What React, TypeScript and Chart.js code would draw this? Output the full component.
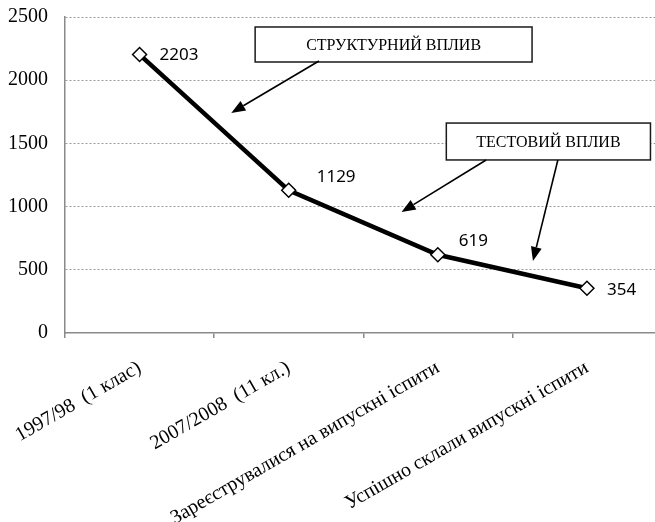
import React, { useEffect, useRef } from 'react';
import { Chart, registerables } from 'chart.js';

Chart.register(...registerables);

// ---- data ----
const categories = [
  '1997/98  (1 клас)',
  '2007/2008  (11 кл.)',
  'Зареєструвалися на випускні іспити',
  'Успішно склали випускні іспити',
];
const values = [2203, 1129, 619, 354];
const yMin = 0;
const yMax = 2500;
const yStep = 500;
const calloutTexts = ['СТРУКТУРНИЙ ВПЛИВ', 'ТЕСТОВИЙ ВПЛИВ'];

// callout geometry expressed in the chart's own units (category index, value)
const calloutLayout = [
  { box: [0.775, 2421, 2.632, 2144], arrows: [[1.203, 2152, 0.615, 1741]] },
  {
    box: [2.057, 1661, 3.426, 1369],
    arrows: [
      [2.324, 1369, 1.757, 957],
      [2.805, 1369, 2.638, 570],
    ],
  },
];
// value label offsets (px) relative to each point
const valueLabelOffsets = [
  [20, 1],
  [28, -13],
  [21, -14],
  [20, 2],
];

const annotationPlugin = {
  id: 'callouts',
  afterDatasetsDraw(chart: any) {
    const { ctx, scales } = chart;
    const xs = scales.x;
    const ys = scales.y;
    const meta = chart.getDatasetMeta(0);
    ctx.save();
    // value labels
    ctx.font = '17px "Noto Sans"';
    ctx.fillStyle = '#000';
    ctx.textAlign = 'left';
    ctx.textBaseline = 'middle';
    meta.data.forEach((pt: any, i: number) => {
      const [dx, dy] = valueLabelOffsets[i];
      ctx.fillText(String(values[i]), pt.x + dx, pt.y + dy);
    });

    // callouts
    calloutLayout.forEach((c, k) => {
      const x1 = xs.getPixelForValue(c.box[0]);
      const y1 = ys.getPixelForValue(c.box[1]);
      const x2 = xs.getPixelForValue(c.box[2]);
      const y2 = ys.getPixelForValue(c.box[3]);
      ctx.fillStyle = '#fff';
      ctx.fillRect(x1, y1, x2 - x1, y2 - y1);
      ctx.strokeStyle = '#1a1a1a';
      ctx.lineWidth = 1.5;
      ctx.strokeRect(x1, y1, x2 - x1, y2 - y1);
      ctx.fillStyle = '#000';
      ctx.font = '16px "Liberation Serif"';
      ctx.textAlign = 'center';
      ctx.textBaseline = 'middle';
      ctx.fillText(calloutTexts[k], (x1 + x2) / 2, (y1 + y2) / 2 + 1);

      c.arrows.forEach((a) => {
        const ax = xs.getPixelForValue(a[0]);
        const ay = ys.getPixelForValue(a[1]);
        const bx = xs.getPixelForValue(a[2]);
        const by = ys.getPixelForValue(a[3]);
        const ang = Math.atan2(by - ay, bx - ax);
        const headLen = 14;
        const headHalf = 5.5;
        const baseX = bx - headLen * Math.cos(ang);
        const baseY = by - headLen * Math.sin(ang);
        ctx.strokeStyle = '#000';
        ctx.lineWidth = 1.6;
        ctx.beginPath();
        ctx.moveTo(ax, ay);
        ctx.lineTo(baseX, baseY);
        ctx.stroke();
        ctx.fillStyle = '#000';
        ctx.beginPath();
        ctx.moveTo(bx, by);
        ctx.lineTo(baseX + headHalf * Math.sin(ang), baseY - headHalf * Math.cos(ang));
        ctx.lineTo(baseX - headHalf * Math.sin(ang), baseY + headHalf * Math.cos(ang));
        ctx.closePath();
        ctx.fill();
      });
    });
    ctx.restore();
  },
};

export default function App() {
  const canvasRef = useRef<HTMLCanvasElement | null>(null);

  useEffect(() => {
    const canvas = canvasRef.current;
    if (!canvas) return;
    const chart = new Chart(canvas, {
      type: 'line',
      data: {
        labels: categories,
        datasets: [
          {
            data: values,
            borderColor: '#000',
            borderWidth: 4.5,
            tension: 0,
            pointStyle: 'rectRot',
            pointRadius: 7,
            pointBackgroundColor: '#fff',
            pointBorderColor: '#000',
            pointBorderWidth: 1.5,
            fill: false,
          },
        ],
      },
      options: {
        animation: false,
        responsive: false,
        devicePixelRatio: 1,
        layout: { padding: { top: 17, right: 6, left: 0, bottom: 0 } },
        plugins: {
          legend: { display: false },
          tooltip: { enabled: false },
          title: { display: false },
        },
        scales: {
          x: {
            type: 'category',
            offset: true,
            afterFit: (s: any) => {
              s.height = 189;
              s.paddingLeft = 0;
              s.paddingRight = 0;
            },
            grid: {
              offset: true,
              drawOnChartArea: false,
              drawTicks: true,
              tickLength: 5,
              color: '#8a8a8a',
              lineWidth: 1.5,
            },
            border: { display: true, color: '#8a8a8a', width: 1.5 },
            ticks: {
              autoSkip: false,
              minRotation: 30,
              maxRotation: 30,
              padding: 18,
              color: '#000',
              font: { family: '"Liberation Serif"', size: 20 },
            },
          },
          y: {
            min: yMin,
            max: yMax,
            afterFit: (s: any) => {
              s.width = 65;
              s.paddingTop = 0;
              s.paddingBottom = 0;
            },
            grid: {
              drawTicks: false,
              color: (c: any) => (c.tick && c.tick.value === 0 ? 'rgba(0,0,0,0)' : '#9a9a9a'),
              lineWidth: 1,
            },
            border: { display: true, color: '#8a8a8a', width: 1.5, dash: [2, 2] },
            ticks: {
              stepSize: yStep,
              padding: 17,
              color: '#000',
              font: { family: '"Liberation Serif"', size: 20 },
              callback: (v: any) => String(v),
            },
          },
        },
      },
      plugins: [annotationPlugin],
    });
    return () => chart.destroy();
  }, []);

  return (
    <div
      style={{
        position: 'fixed',
        left: 0,
        top: 0,
        width: 655,
        height: 522,
        overflow: 'hidden',
        background: '#fff',
      }}
    >
      <canvas ref={canvasRef} width={670} height={522} style={{ width: 670, height: 522, display: 'block' }} />
    </div>
  );
}
